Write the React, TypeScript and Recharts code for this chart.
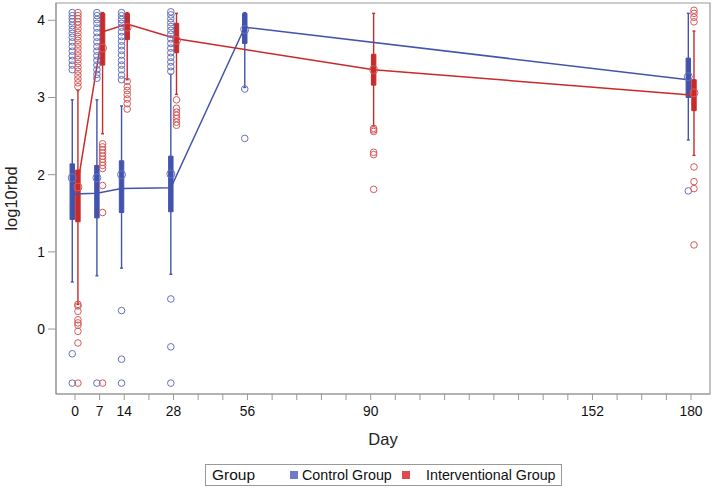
import React from "react";
import {
  ComposedChart,
  XAxis,
  YAxis,
  Scatter,
  Line,
  ReferenceArea,
  ReferenceLine,
} from "recharts";

// visit days and the evenly spaced axis slot each one sits on
const days = [0, 7, 14, 28, 56, 90, 152, 180];
const daySlots = [0, 1, 2, 4, 7, 12, 21, 25];

// Control group box statistics
const controlDays = [0, 7, 14, 28, 56, 180];
const controlLow = [0.61, 0.69, 0.79, 0.71, 3.13, 2.45];
const controlQ1 = [1.42, 1.44, 1.51, 1.52, 3.7, 3.0];
const controlMedian = [1.75, 1.76, 1.82, 1.83, 3.91, 3.23];
const controlQ3 = [2.14, 2.12, 2.18, 2.24, 4.09, 3.51];
const controlHigh = [2.97, 2.97, 2.89, 3.3, 4.1, 4.09];
const controlMean = [1.96, 1.96, 2.0, 2.01, 3.88, 3.27];
const controlOutliers = [
  [4.1, 4.06, 4.02, 3.98, 3.93, 3.88, 3.83, 3.78, 3.72, 3.66, 3.6, 3.54, 3.48, 3.42, 3.36, -0.32, -0.7],
  [4.1, 4.06, 4.01, 3.96, 3.9, 3.84, 3.78, 3.72, 3.66, 3.6, 3.54, 3.48, 3.42, 3.36, 3.3, 3.25, -0.7],
  [4.1, 4.06, 4.01, 3.96, 3.91, 3.85, 3.79, 3.73, 3.67, 3.61, 3.55, 3.48, 3.42, 3.36, 3.29, 3.23, 0.24, -0.39, -0.7],
  [4.11, 4.07, 4.02, 3.97, 3.92, 3.87, 3.82, 3.76, 3.7, 3.64, 3.58, 3.52, 3.46, 3.4, 3.34, 0.39, -0.23, -0.7],
  [3.11, 2.47],
  [1.79],
];

// Interventional group box statistics
const interDays = [0, 7, 14, 28, 90, 180];
const interLow = [0.32, 2.53, 3.23, 3.04, 2.63, 2.25];
const interQ1 = [1.39, 3.42, 3.75, 3.58, 3.16, 2.83];
const interMedian = [1.9, 3.85, 3.95, 3.76, 3.36, 3.03];
const interQ3 = [2.06, 4.09, 4.09, 3.96, 3.56, 3.23];
const interHigh = [3.09, 4.1, 4.1, 4.09, 4.09, 3.86];
const interMean = [1.84, 3.64, 3.91, 3.74, 3.36, 3.06];
const interOutliers = [
  [4.1, 4.06, 4.02, 3.98, 3.94, 3.89, 3.84, 3.79, 3.74, 3.69, 3.64, 3.59, 3.54, 3.49, 3.44, 3.39, 3.34, 3.29, 3.24, 3.19, 3.14, 0.32, 0.3, 0.23, 0.12, 0.08, 0.05, -0.03, -0.18, -0.7],
  [2.4, 2.36, 2.32, 2.28, 2.24, 2.2, 2.16, 2.12, 2.08, 1.86, 1.51, -0.7],
  [3.21, 3.14, 3.09, 3.04, 2.98, 2.92, 2.85],
  [2.97, 2.86, 2.81, 2.77, 2.73, 2.68, 2.64],
  [2.6, 2.58, 2.56, 2.29, 2.26, 1.81],
  [4.13, 4.09, 4.04, 3.98, 2.1, 1.91, 1.82, 1.09],
];

const yTicks = [0, 1, 2, 3, 4];

const BLUE = "#4354ad";
const BLUE_LIGHT = "#6672c0";
const RED = "#c92a2a";
const RED_LIGHT = "#d65a5a";
const FRAME = "#999";
const FONT = "'Liberation Sans', Arial, sans-serif";

const X_DOMAIN = [-0.77, 25.77];
const Y_DOMAIN = [-0.841, 4.224];

const slotOf = (day: number) => daySlots[days.indexOf(day)];
const xTicks = Array.from({ length: 26 }, (_, i) => i);
const halfBox = 0.09;
const halfCap = 0.06;

const buildBoxes = (
  dayList: number[],
  low: number[],
  q1: number[],
  median: number[],
  q3: number[],
  high: number[],
  mean: number[],
  offset: number
) =>
  dayList.map((d, i) => ({
    x: slotOf(d) + offset,
    low: low[i],
    q1: q1[i],
    median: median[i],
    q3: q3[i],
    high: high[i],
    mean: mean[i],
  }));

const controlBoxes = buildBoxes(controlDays, controlLow, controlQ1, controlMedian, controlQ3, controlHigh, controlMean, -0.11);
const interBoxes = buildBoxes(interDays, interLow, interQ1, interMedian, interQ3, interHigh, interMean, 0.12);

const outlierPoints = (dayList: number[], lists: number[][], offset: number) =>
  dayList.flatMap((d, i) => lists[i].map((v) => ({ x: slotOf(d) + offset, y: v })));

const controlOut = outlierPoints(controlDays, controlOutliers, -0.11);
const interOut = outlierPoints(interDays, interOutliers, 0.12);

const ring = (color: string, r: number) => (p: any) =>
  <circle cx={p.cx} cy={p.cy} r={r} fill="none" stroke={color} strokeWidth={1} />;

const renderBoxes = (boxes: any[], color: string, key: string) => [
  ...boxes.map((b, i) => (
    <ReferenceLine
      key={`${key}-w${i}`}
      segment={[{ x: b.x, y: b.low }, { x: b.x, y: b.high }]}
      stroke={color}
      strokeWidth={1.4}
      ifOverflow="visible"
    />
  )),
  ...boxes.flatMap((b, i) => [
    <ReferenceLine
      key={`${key}-cl${i}`}
      segment={[{ x: b.x - halfCap, y: b.low }, { x: b.x + halfCap, y: b.low }]}
      stroke={color}
      strokeWidth={1.4}
      ifOverflow="visible"
    />,
    <ReferenceLine
      key={`${key}-ch${i}`}
      segment={[{ x: b.x - halfCap, y: b.high }, { x: b.x + halfCap, y: b.high }]}
      stroke={color}
      strokeWidth={1.4}
      ifOverflow="visible"
    />,
  ]),
  ...boxes.map((b, i) => (
    <ReferenceArea
      key={`${key}-b${i}`}
      x1={b.x - halfBox}
      x2={b.x + halfBox}
      y1={b.q1}
      y2={b.q3}
      fill={color}
      fillOpacity={1}
      stroke={color}
      strokeWidth={1}
      ifOverflow="visible"
    />
  )),
];

const XLabel = (props: any) => {
  const vb = props.viewBox;
  return (
    <text x={vb.x + vb.width / 2} y={vb.y + 51} textAnchor="middle" fontSize={16.5} fontFamily={FONT} fill="#222">
      Day
    </text>
  );
};

const YLabel = (props: any) => {
  const vb = props.viewBox;
  const cy = vb.y + vb.height / 2;
  return (
    <text x={17} y={cy} transform={`rotate(-90, 17, ${cy})`} textAnchor="middle" fontSize={16.5} fontFamily={FONT} fill="#222">
      log10rbd
    </text>
  );
};

const Swatch = ({ color, left }: { color: string; left: number }) => (
  <span style={{ position: "absolute", left, top: 6, width: 8, height: 8, background: color }} />
);

const LegendText = ({ left, size, children }: { left: number; size: number; children: React.ReactNode }) => (
  <span style={{ position: "absolute", left, top: 0, lineHeight: "20px", fontSize: size }}>{children}</span>
);

const App = () => {
  return (
    <div style={{ position: "absolute", left: 0, top: 0, width: 714, height: 488, background: "#fff" }}>
      <ComposedChart width={714} height={488} margin={{ top: 3, right: 4, bottom: 0, left: 0 }}>
        <XAxis
          type="number"
          dataKey="x"
          domain={X_DOMAIN}
          ticks={xTicks}
          interval={0}
          allowDataOverflow
          height={94}
          tickSize={6}
          tickMargin={6}
          stroke={FRAME}
          tick={{ fill: "#111", fontSize: 13.8, fontFamily: FONT }}
          tickFormatter={(v: number) => {
            const idx = daySlots.indexOf(v);
            return idx >= 0 ? String(days[idx]) : "";
          }}
          label={<XLabel />}
        />
        <YAxis
          type="number"
          dataKey="y"
          domain={Y_DOMAIN}
          ticks={yTicks}
          allowDataOverflow
          width={56}
          tickSize={8}
          tickMargin={3}
          stroke={FRAME}
          tick={{ fill: "#111", fontSize: 13.8, fontFamily: FONT }}
          label={<YLabel />}
        />
        {/* plot frame, top and right edges */}
        <ReferenceArea
          x1={X_DOMAIN[0]}
          x2={X_DOMAIN[1]}
          y1={Y_DOMAIN[0]}
          y2={Y_DOMAIN[1]}
          fill="none"
          stroke={FRAME}
          strokeWidth={1.2}
          ifOverflow="visible"
        />
        {renderBoxes(controlBoxes, BLUE, "c")}
        {renderBoxes(interBoxes, RED, "i")}
        <Line
          data={controlBoxes.map((b) => ({ x: b.x, y: b.median }))}
          dataKey="y"
          type="linear"
          stroke={BLUE}
          strokeWidth={1.5}
          dot={false}
          activeDot={false}
          isAnimationActive={false}
        />
        <Line
          data={interBoxes.map((b) => ({ x: b.x, y: b.median }))}
          dataKey="y"
          type="linear"
          stroke={RED}
          strokeWidth={1.5}
          dot={false}
          activeDot={false}
          isAnimationActive={false}
        />
        <Scatter data={controlOut} dataKey="y" shape={ring(BLUE_LIGHT, 3.3)} isAnimationActive={false} />
        <Scatter data={interOut} dataKey="y" shape={ring(RED_LIGHT, 3.3)} isAnimationActive={false} />
        <Scatter
          data={controlBoxes.map((b) => ({ x: b.x, y: b.mean }))}
          dataKey="y"
          shape={ring(BLUE_LIGHT, 4)}
          isAnimationActive={false}
        />
        <Scatter
          data={interBoxes.map((b) => ({ x: b.x, y: b.mean }))}
          dataKey="y"
          shape={ring(RED_LIGHT, 4)}
          isAnimationActive={false}
        />
      </ComposedChart>
      <div
        style={{
          position: "absolute",
          left: 205,
          top: 464,
          width: 357,
          height: 22,
          border: "1px solid #999",
          boxSizing: "border-box",
          fontFamily: FONT,
          color: "#111",
          whiteSpace: "nowrap",
        }}
      >
        <LegendText left={6} size={15.5}>Group</LegendText>
        <Swatch color="#6f7bc4" left={84} />
        <LegendText left={96} size={14.3}>Control Group</LegendText>
        <Swatch color="#dd4a4f" left={196} />
        <LegendText left={220} size={14.3}>Interventional Group</LegendText>
      </div>
    </div>
  );
};

export default App;
